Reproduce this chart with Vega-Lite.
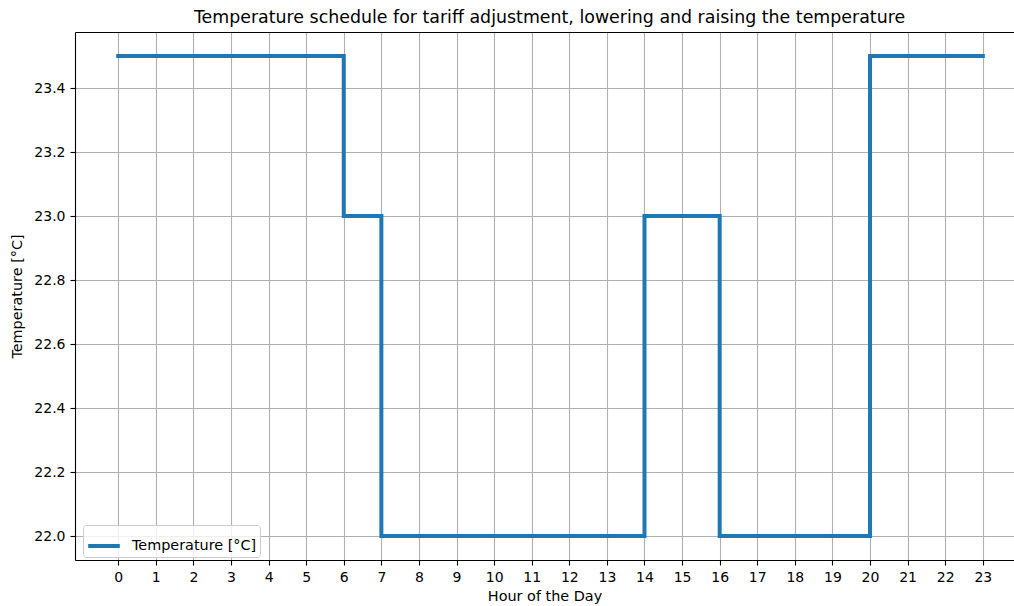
{
  "$schema": "https://vega.github.io/schema/vega-lite/v6.json",
  "autosize": {"type": "none"},
  "width": 939,
  "height": 528,
  "padding": {"left": 75, "top": 32, "right": 0, "bottom": 46},
  "background": "white",
  "title": {
    "text": "Temperature schedule for tariff adjustment, lowering and raising the temperature",
    "font": "DejaVu Sans",
    "fontSize": 17.4,
    "fontWeight": "normal",
    "color": "black",
    "anchor": "middle",
    "dx": 5,
    "offset": 6
  },
  "data": {
    "values": [
      {"hour": 0, "temp": 23.5},
      {"hour": 1, "temp": 23.5},
      {"hour": 2, "temp": 23.5},
      {"hour": 3, "temp": 23.5},
      {"hour": 4, "temp": 23.5},
      {"hour": 5, "temp": 23.5},
      {"hour": 6, "temp": 23.0},
      {"hour": 7, "temp": 22.0},
      {"hour": 8, "temp": 22.0},
      {"hour": 9, "temp": 22.0},
      {"hour": 10, "temp": 22.0},
      {"hour": 11, "temp": 22.0},
      {"hour": 12, "temp": 22.0},
      {"hour": 13, "temp": 22.0},
      {"hour": 14, "temp": 23.0},
      {"hour": 15, "temp": 23.0},
      {"hour": 16, "temp": 22.0},
      {"hour": 17, "temp": 22.0},
      {"hour": 18, "temp": 22.0},
      {"hour": 19, "temp": 22.0},
      {"hour": 20, "temp": 23.5},
      {"hour": 21, "temp": 23.5},
      {"hour": 22, "temp": 23.5},
      {"hour": 23, "temp": 23.5}
    ]
  },
  "layer": [
    {
      "mark": {"type": "line", "opacity": 0},
      "encoding": {
        "x": {
          "field": "hour",
          "type": "quantitative",
          "scale": {"domain": [-1.15, 23.83], "nice": false, "zero": false},
          "axis": {"orient": "top", "domain": true, "ticks": false, "labels": false, "grid": false, "title": null}
        },
        "y": {
          "field": "temp",
          "type": "quantitative",
          "scale": {"domain": [21.925, 23.575], "nice": false, "zero": false},
          "axis": {
            "orient": "left",
            "values": [22.0, 22.2, 22.4, 22.6, 22.8, 23.0, 23.2, 23.4],
            "format": ".1f",
            "title": "Temperature [°C]",
            "grid": true
          }
        }
      }
    },
    {
      "mark": {"type": "line", "interpolate": "step-after", "strokeWidth": 4, "strokeCap": "square", "strokeJoin": "miter"},
      "encoding": {
        "x": {
          "field": "hour",
          "type": "quantitative",
          "axis": {
            "orient": "bottom",
            "values": [0,1,2,3,4,5,6,7,8,9,10,11,12,13,14,15,16,17,18,19,20,21,22,23],
            "title": "Hour of the Day",
            "grid": true
          }
        },
        "y": {
          "field": "temp",
          "type": "quantitative",
          "axis": {
            "orient": "left",
            "values": [22.0, 22.2, 22.4, 22.6, 22.8, 23.0, 23.2, 23.4],
            "format": ".1f",
            "title": "Temperature [°C]",
            "grid": true
          }
        },
        "color": {
          "datum": "Temperature [°C]",
          "type": "nominal",
          "scale": {"range": ["#1f77b4"]},
          "legend": {
            "title": null,
            "orient": "none",
            "legendX": 8,
            "legendY": 493,
            "symbolType": "stroke",
            "symbolSize": 1000,
            "symbolStrokeWidth": 4,
            "labelFont": "DejaVu Sans",
            "labelFontSize": 14.4,
            "labelColor": "black",
            "labelOffset": 10,
            "fillColor": "rgba(255,255,255,0.8)",
            "strokeColor": "#cccccc",
            "cornerRadius": 3,
            "padding": 3
          }
        }
      }
    }
  ],
  "config": {
    "view": {"stroke": null},
    "axis": {
      "domainColor": "black",
      "domainWidth": 1.1,
      "tickColor": "black",
      "tickWidth": 1.1,
      "tickSize": 5,
      "labelFont": "DejaVu Sans",
      "labelFontSize": 14,
      "labelColor": "black",
      "labelPadding": 5,
      "titleFont": "DejaVu Sans",
      "titleFontSize": 14.4,
      "titleFontWeight": "normal",
      "titleColor": "black",
      "gridColor": "#b0b0b0",
      "gridWidth": 1.1,
      "labelFlush": false,
      "labelOverlap": false
    },
    "axisX": {"titlePadding": 5},
    "axisY": {"titlePadding": 9}
  }
}
